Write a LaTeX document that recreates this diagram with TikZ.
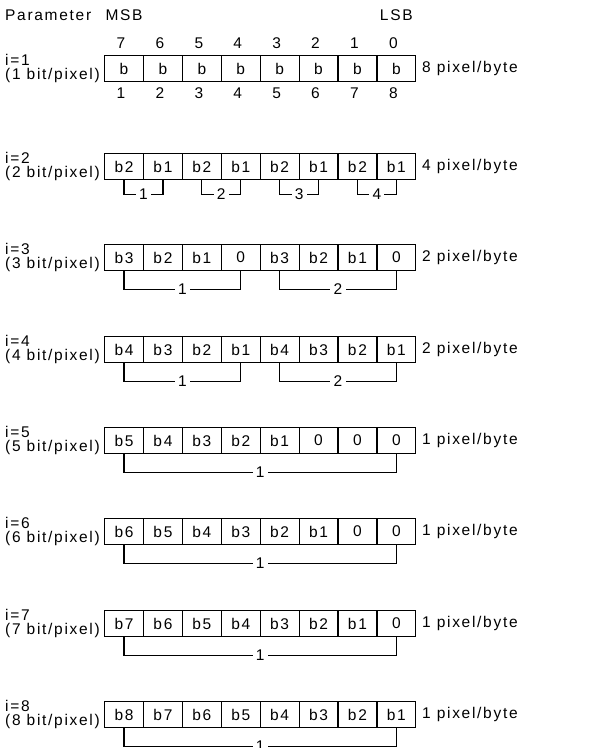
\documentclass[tikz,border=0pt]{standalone}
\usepackage{fontspec}
\setmainfont{Liberation Sans}[LetterSpace=11]
\usetikzlibrary{calc}
\newcommand\pixrow[3]{%
  \foreach \t [count=\j] in {#3} {
    \node[cell] (r#1-\j) at ({104+(\j-1)*38.9},#2) {\t};
  }
}
\newcommand\pixbracket[5]{%
  \node[blab] (b#1-#4) at ($(r#1-#2.south)!0.5!(r#1-#3.south)+(0,#5)$) {#4};
  \draw[brk] (r#1-#2.south) |- (b#1-#4.west);
  \draw[brk] (r#1-#3.south) |- (b#1-#4.east);
}
\newcommand\pixlabels[3]{%
  \node[txt,anchor=base west] (ia#1) at (5,#2+10) {i=#1};
  \node[txt,anchor=base west] (ib#1) at (5,#2+24.5) {(#1 bit/pixel)};
  \node[txt,anchor=west] (pp#1) at (422,#2+13) {#3 pixel/byte};
}
\begin{document}
\begin{tikzpicture}[x=1pt,y=-1pt,
  txt/.style={inner sep=0pt,font=\fontsize{15.5}{18}\selectfont},
  cell/.style={txt,draw,line width=1.2pt,minimum width=38.9pt,minimum height=26pt,anchor=north west},
  brk/.style={line width=1.2pt},
  blab/.style={txt,inner sep=3pt}]
\useasboundingbox (0,0) rectangle (614,748);
\node[txt,anchor=west] (param) at (5,15) {Parameter};
\pixrow{1}{55}{b,b,b,b,b,b,b,b}
\pixrow{2}{153}{b2,b1,b2,b1,b2,b1,b2,b1}
\pixrow{3}{244}{b3,b2,b1,0,b3,b2,b1,0}
\pixrow{4}{336}{b4,b3,b2,b1,b4,b3,b2,b1}
\pixrow{5}{427}{b5,b4,b3,b2,b1,0,0,0}
\pixrow{6}{518}{b6,b5,b4,b3,b2,b1,0,0}
\pixrow{7}{610}{b7,b6,b5,b4,b3,b2,b1,0}
\pixrow{8}{701}{b8,b7,b6,b5,b4,b3,b2,b1}
\node[txt] (msb) at ($(r1-1.north)+(0,-40)$) {MSB};
\node[txt] (lsb) at ($(r1-8.north)+(0,-40)$) {LSB};
\foreach \j/\t in {1/7,2/6,3/5,4/4,5/3,6/2,7/1,8/0}
  \node[txt] (top\j) at ($(r1-\j.north)+(-3,-12)$) {\t};
\foreach \j in {1,...,8}
  \node[txt] (bot\j) at ($(r1-\j.south)+(-3,11)$) {\j};
\pixlabels{1}{55}{8}
\pixlabels{2}{153}{4}
\pixlabels{3}{244}{2}
\pixlabels{4}{336}{2}
\pixlabels{5}{427}{1}
\pixlabels{6}{518}{1}
\pixlabels{7}{610}{1}
\pixlabels{8}{701}{1}
\pixbracket{2}{1}{2}{1}{14}
\pixbracket{2}{3}{4}{2}{14}
\pixbracket{2}{5}{6}{3}{14}
\pixbracket{2}{7}{8}{4}{14}
\pixbracket{3}{1}{4}{1}{18}
\pixbracket{3}{5}{8}{2}{18}
\pixbracket{4}{1}{4}{1}{18}
\pixbracket{4}{5}{8}{2}{18}
\pixbracket{5}{1}{8}{1}{18}
\pixbracket{6}{1}{8}{1}{18}
\pixbracket{7}{1}{8}{1}{18}
\pixbracket{8}{1}{8}{1}{18}
\end{tikzpicture}
\end{document}
